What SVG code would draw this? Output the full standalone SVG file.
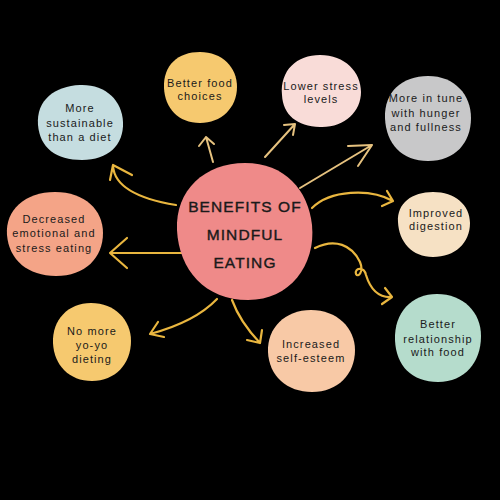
<svg xmlns="http://www.w3.org/2000/svg" width="500" height="500" viewBox="0 0 500 500">
<style>
.t{font-family:"Liberation Sans","DejaVu Sans",sans-serif;font-size:11px;letter-spacing:1.1px;fill:#1a1a1a;text-anchor:middle}
.title{font-family:"Liberation Sans","DejaVu Sans",sans-serif;font-size:15.5px;letter-spacing:1.1px;fill:#1a1a1a;stroke:#1a1a1a;stroke-width:0.4;text-anchor:middle}
.a{fill:none;stroke:#e9b63f;stroke-width:2.2;stroke-linecap:round;stroke-linejoin:round}
.a2{fill:none;stroke:#e6c27f;stroke-width:2;stroke-linecap:round;stroke-linejoin:round}
</style>
<rect width="500" height="500" fill="#000"/>
<g id="connectors">
<path class="a" d="M176,205 Q115,195 113,166 M132,175 L113,165 L110,180"/>
<path class="a" d="M190,253 L110,253 M127,238 L110,253 L127,268"/>
<path class="a2" d="M213,162 L206,137 M199,146 L206,137 L214,144"/>
<path class="a2" d="M265,157 L295,124 M284,125 L295,124 L293,135"/>
<path class="a2" d="M300,188 L372,145 M348,146 L372,145 L358,166"/>
<path class="a" d="M312,208 C330,190 370,188 393,201 M387,191 L393,201 L382,206"/>
<path class="a" d="M315,248 C335,238 352,245 360,262 C364,272 358,278 356,274 C354,268 364,266 366,275 C370,288 378,298 392,297 M385,288 L392,297 L382,304"/>
<path class="a" d="M217,299 Q195,322 150,334 M158,322 L150,334 L164,337"/>
<path class="a" d="M232,300 Q240,322 260,343 M262,330 L260,343 L247,340"/>
</g>
<g id="center">
<path d="M177,230 C175,190 205,163 245,163 C285,163 308,190 312,225 C316,265 290,300 248,300 C205,300 179,270 177,230 Z" fill="#ef8a89"/>
<text class="title" x="245" y="212">BENEFITS OF</text>
<text class="title" x="245" y="240">MINDFUL</text>
<text class="title" x="245" y="268">EATING</text>
</g>
<g id="n-sustainable">
<path d="M38,125 C36,100 55,86 80,85 C105,84 122,100 123,122 C124,145 108,160 82,160 C56,160 40,148 38,125 Z" fill="#c5dde0"/>
<text class="t" x="80" y="112">More</text>
<text class="t" x="80" y="127">sustainable</text>
<text class="t" x="80" y="141">than a diet</text>
</g>
<g id="n-food">
<path d="M164,88 C163,65 178,52 200,52 C222,52 237,67 237,87 C237,108 221,123 200,123 C178,123 165,108 164,88 Z" fill="#f6c96f"/>
<text class="t" x="200" y="87">Better food</text>
<text class="t" x="200" y="100">choices</text>
</g>
<g id="n-stress">
<path d="M282,95 C280,70 297,55 320,55 C345,55 361,72 361,92 C361,112 344,128 320,127 C297,126 283,115 282,95 Z" fill="#f9dcd8"/>
<text class="t" x="321" y="90">Lower stress</text>
<text class="t" x="321" y="103">levels</text>
</g>
<g id="n-tune">
<path d="M385,118 C384,92 402,76 428,76 C455,76 471,95 471,118 C471,143 455,161 428,161 C402,161 386,144 385,118 Z" fill="#c8c8c9"/>
<text class="t" x="426" y="102">More in tune</text>
<text class="t" x="426" y="117">with hunger</text>
<text class="t" x="426" y="131">and fullness</text>
</g>
<g id="n-digestion">
<path d="M398,222 C397,203 412,192 433,192 C455,192 470,205 470,223 C470,243 455,257 433,257 C412,257 399,242 398,222 Z" fill="#f6e1c4"/>
<text class="t" x="436" y="217">Improved</text>
<text class="t" x="436" y="230">digestion</text>
</g>
<g id="n-emotional">
<path d="M7,235 C5,210 25,192 55,192 C85,192 103,210 103,233 C103,258 85,276 56,276 C28,276 9,260 7,235 Z" fill="#f4a487"/>
<text class="t" x="54" y="223">Decreased</text>
<text class="t" x="54" y="237">emotional and</text>
<text class="t" x="54" y="252">stress eating</text>
</g>
<g id="n-relationship">
<path d="M395,340 C394,312 412,294 437,294 C463,294 481,312 481,336 C481,362 465,382 438,382 C412,382 396,366 395,340 Z" fill="#b5dccc"/>
<text class="t" x="438" y="328">Better</text>
<text class="t" x="438" y="343">relationship</text>
<text class="t" x="438" y="356">with food</text>
</g>
<g id="n-yoyo">
<path d="M53,343 C52,320 68,303 91,303 C115,303 131,320 131,341 C131,364 115,381 92,381 C69,381 54,365 53,343 Z" fill="#f6c96f"/>
<text class="t" x="92" y="335">No more</text>
<text class="t" x="92" y="349">yo-yo</text>
<text class="t" x="92" y="363">dieting</text>
</g>
<g id="n-esteem">
<path d="M268,352 C267,328 285,310 311,310 C337,310 355,328 355,350 C355,374 338,392 312,392 C287,392 269,376 268,352 Z" fill="#f8c9a6"/>
<text class="t" x="311" y="348">Increased</text>
<text class="t" x="311" y="362">self-esteem</text>
</g>
</svg>
